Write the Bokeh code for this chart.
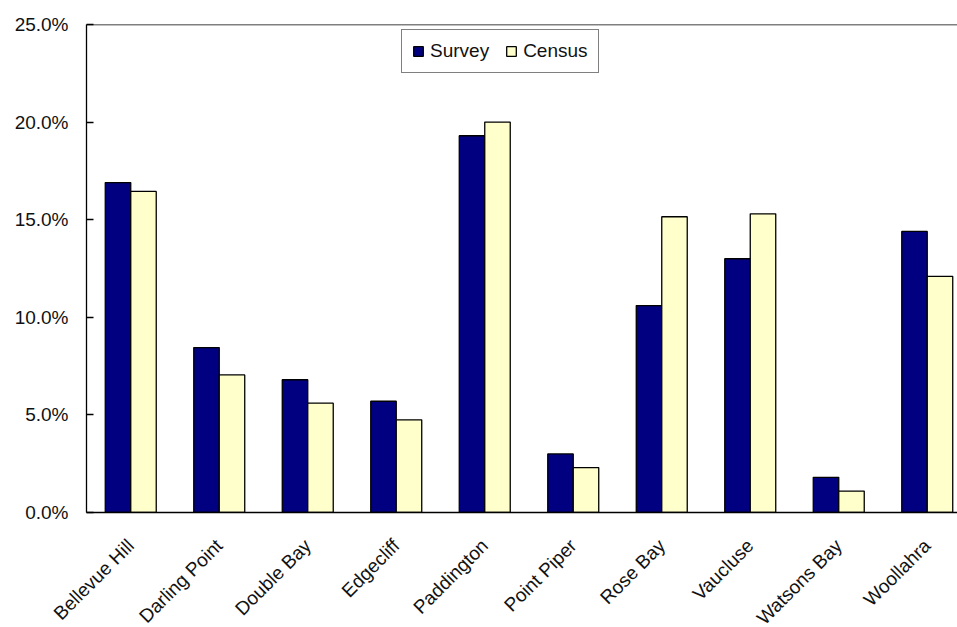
import numpy as np
from bokeh.plotting import figure
from bokeh.models import (ColumnDataSource, Range1d, FixedTicker, NumeralTickFormatter,
                          Legend, LegendItem, Span)
from bokeh.transform import dodge
from bokeh.embed import file_html
from bokeh.resources import INLINE

suburbs = ["Bellevue Hill", "Darling Point", "Double Bay", "Edgecliff", "Paddington",
           "Point Piper", "Rose Bay", "Vaucluse", "Watsons Bay", "Woollahra"]
survey = [16.9, 8.45, 6.8, 5.7, 19.3, 3.0, 10.6, 13.0, 1.8, 14.4]
census = [16.45, 7.05, 5.6, 4.75, 20.0, 2.3, 15.15, 15.3, 1.1, 12.1]
y_ticks = [0.0, 0.05, 0.10, 0.15, 0.20, 0.25]

pos = np.arange(len(suburbs)) + 0.5
src = ColumnDataSource(dict(x=pos, survey=np.array(survey) / 100, census=np.array(census) / 100,
                            name=suburbs))

FONT = "Liberation Sans"
FS = "19px"
p = figure(frame_width=871, frame_height=488, output_backend="svg", toolbar_location=None,
           x_range=Range1d(0, 871 / 88.5), y_range=Range1d(0, 0.25),
           min_border_left=86, min_border_top=24, min_border_right=0, min_border_bottom=115)
p.outline_line_color = None
p.xgrid.visible = False
p.ygrid.visible = False

bw = 0.288
r1 = p.vbar(x=dodge("x", -bw / 2), top="survey", width=bw, source=src,
            fill_color="#000080", line_color="black", line_width=1.3)
r2 = p.vbar(x=dodge("x", bw / 2), top="census", width=bw, source=src,
            fill_color="#FFFFCC", line_color="black", line_width=1.3)

p.add_layout(Span(location=0.25, dimension="width", line_color="black", line_width=1.3))

ya = p.yaxis[0]
ya.ticker = FixedTicker(ticks=y_ticks)
ya.formatter = NumeralTickFormatter(format="0.0%")
ya.major_tick_in = 7
ya.major_tick_out = 0
ya.minor_tick_in = 0
ya.minor_tick_out = 0
ya.major_label_standoff = 18
ya.major_label_text_font = FONT
ya.major_label_text_font_size = FS
ya.major_label_text_color = "#111111"
ya.axis_line_color = "black"
ya.axis_line_width = 1.3
ya.major_tick_line_width = 1.3

xa = p.xaxis[0]
xa.ticker = FixedTicker(ticks=list(pos))
xa.major_label_overrides = {float(v): s for v, s in zip(pos, suburbs)}
xa.major_tick_in = 0
xa.major_tick_out = 0
xa.minor_tick_in = 0
xa.minor_tick_out = 0
xa.major_label_orientation = np.pi / 4
xa.major_label_standoff = 30
xa.major_label_text_font = FONT
xa.major_label_text_font_size = FS
xa.major_label_text_color = "#111111"
xa.axis_line_color = "black"
xa.axis_line_width = 1.3

legend = Legend(items=[LegendItem(label="Survey", renderers=[r1]),
                       LegendItem(label="Census", renderers=[r2])],
                orientation="horizontal", location=(315, 439))
legend.label_text_font = FONT
legend.label_text_font_size = FS
legend.label_text_color = "#111111"
legend.glyph_width = 12
legend.glyph_height = 12
legend.label_standoff = 6
legend.spacing = 16
legend.padding = 10
legend.margin = 0
legend.border_line_color = "black"
legend.border_line_width = 1
legend.background_fill_alpha = 1
p.add_layout(legend, "center")

open("out.html", "w").write(file_html(p, INLINE))
